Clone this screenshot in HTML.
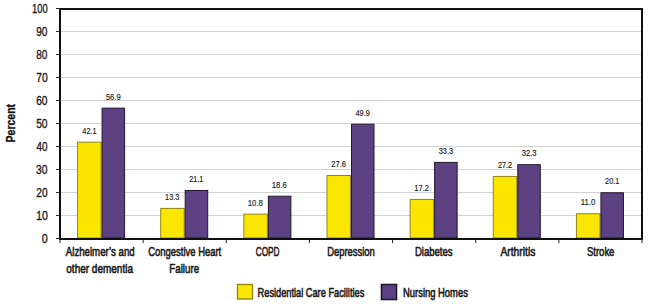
<!DOCTYPE html>
<html><head><meta charset="utf-8"><style>
html,body{margin:0;padding:0;background:#fff;width:648px;height:304px;overflow:hidden}
svg text{font-family:"Liberation Sans", sans-serif}
</style></head><body>
<svg width="648" height="304" viewBox="0 0 648 304" style="display:block">
<rect width="648" height="304" fill="#fff"/>
<line x1="60.0" x2="642.0" y1="215.5" y2="215.5" stroke="#d3d3d3" stroke-width="1"/>
<line x1="60.0" x2="642.0" y1="192.5" y2="192.5" stroke="#d3d3d3" stroke-width="1"/>
<line x1="60.0" x2="642.0" y1="169.5" y2="169.5" stroke="#d3d3d3" stroke-width="1"/>
<line x1="60.0" x2="642.0" y1="146.5" y2="146.5" stroke="#d3d3d3" stroke-width="1"/>
<line x1="60.0" x2="642.0" y1="123.50000000000001" y2="123.50000000000001" stroke="#d3d3d3" stroke-width="1"/>
<line x1="60.0" x2="642.0" y1="100.5" y2="100.5" stroke="#d3d3d3" stroke-width="1"/>
<line x1="60.0" x2="642.0" y1="77.5" y2="77.5" stroke="#d3d3d3" stroke-width="1"/>
<line x1="60.0" x2="642.0" y1="54.5" y2="54.5" stroke="#d3d3d3" stroke-width="1"/>
<line x1="60.0" x2="642.0" y1="31.50000000000003" y2="31.50000000000003" stroke="#d3d3d3" stroke-width="1"/>
<rect x="77.57" y="142.17" width="23.5" height="95.83" fill="#fbe600" stroke="#938515" stroke-width="1"/>
<rect x="102.07" y="108.13" width="22.5" height="129.87" fill="#5c4283" stroke="#24142e" stroke-width="1"/>
<rect x="160.71" y="208.41" width="23.5" height="29.59" fill="#fbe600" stroke="#938515" stroke-width="1"/>
<rect x="185.21" y="190.47" width="22.5" height="47.53" fill="#5c4283" stroke="#24142e" stroke-width="1"/>
<rect x="243.86" y="214.16" width="23.5" height="23.84" fill="#fbe600" stroke="#938515" stroke-width="1"/>
<rect x="268.36" y="196.22" width="22.5" height="41.78" fill="#5c4283" stroke="#24142e" stroke-width="1"/>
<rect x="327.00" y="175.52" width="23.5" height="62.48" fill="#fbe600" stroke="#938515" stroke-width="1"/>
<rect x="351.50" y="124.23" width="22.5" height="113.77" fill="#5c4283" stroke="#24142e" stroke-width="1"/>
<rect x="410.14" y="199.44" width="23.5" height="38.56" fill="#fbe600" stroke="#938515" stroke-width="1"/>
<rect x="434.64" y="162.41" width="22.5" height="75.59" fill="#5c4283" stroke="#24142e" stroke-width="1"/>
<rect x="493.29" y="176.44" width="23.5" height="61.56" fill="#fbe600" stroke="#938515" stroke-width="1"/>
<rect x="517.79" y="164.71" width="22.5" height="73.29" fill="#5c4283" stroke="#24142e" stroke-width="1"/>
<rect x="576.43" y="213.70" width="23.5" height="24.30" fill="#fbe600" stroke="#938515" stroke-width="1"/>
<rect x="600.93" y="192.77" width="22.5" height="45.23" fill="#5c4283" stroke="#24142e" stroke-width="1"/>
<rect x="60" y="9" width="582" height="230" fill="none" stroke="#111" stroke-width="2"/>
<line x1="56" x2="60" y1="238.5" y2="238.5" stroke="#222" stroke-width="1"/>
<line x1="56" x2="60" y1="215.5" y2="215.5" stroke="#222" stroke-width="1"/>
<line x1="56" x2="60" y1="192.5" y2="192.5" stroke="#222" stroke-width="1"/>
<line x1="56" x2="60" y1="169.5" y2="169.5" stroke="#222" stroke-width="1"/>
<line x1="56" x2="60" y1="146.5" y2="146.5" stroke="#222" stroke-width="1"/>
<line x1="56" x2="60" y1="123.50000000000001" y2="123.50000000000001" stroke="#222" stroke-width="1"/>
<line x1="56" x2="60" y1="100.5" y2="100.5" stroke="#222" stroke-width="1"/>
<line x1="56" x2="60" y1="77.5" y2="77.5" stroke="#222" stroke-width="1"/>
<line x1="56" x2="60" y1="54.5" y2="54.5" stroke="#222" stroke-width="1"/>
<line x1="56" x2="60" y1="31.50000000000003" y2="31.50000000000003" stroke="#222" stroke-width="1"/>
<line x1="56" x2="60" y1="8.500000000000028" y2="8.500000000000028" stroke="#222" stroke-width="1"/>
<line x1="60.00" x2="60.00" y1="239" y2="243" stroke="#222" stroke-width="1"/>
<line x1="143.14" x2="143.14" y1="239" y2="243" stroke="#222" stroke-width="1"/>
<line x1="226.29" x2="226.29" y1="239" y2="243" stroke="#222" stroke-width="1"/>
<line x1="309.43" x2="309.43" y1="239" y2="243" stroke="#222" stroke-width="1"/>
<line x1="392.57" x2="392.57" y1="239" y2="243" stroke="#222" stroke-width="1"/>
<line x1="475.71" x2="475.71" y1="239" y2="243" stroke="#222" stroke-width="1"/>
<line x1="558.86" x2="558.86" y1="239" y2="243" stroke="#222" stroke-width="1"/>
<line x1="642.00" x2="642.00" y1="239" y2="243" stroke="#222" stroke-width="1"/>
<text x="65.80" y="256.40" font-size="12.9" font-weight="normal" fill="#1a1a1a" textLength="68.93" lengthAdjust="spacingAndGlyphs" stroke="#1a1a1a" stroke-width="0.6">Alzheimer’s and</text>
<text x="66.30" y="272.80" font-size="12.9" font-weight="normal" fill="#1a1a1a" textLength="66.68" lengthAdjust="spacingAndGlyphs" stroke="#1a1a1a" stroke-width="0.6">other dementia</text>
<text x="82.34" y="133.67" font-size="9.6" font-weight="normal" fill="#1a1a1a" textLength="14.33" lengthAdjust="spacingAndGlyphs" stroke="#1a1a1a" stroke-width="0.15">42.1</text>
<text x="105.89" y="99.63" font-size="9.6" font-weight="normal" fill="#1a1a1a" textLength="14.80" lengthAdjust="spacingAndGlyphs" stroke="#1a1a1a" stroke-width="0.15">56.9</text>
<text x="148.30" y="256.40" font-size="12.9" font-weight="normal" fill="#1a1a1a" textLength="72.94" lengthAdjust="spacingAndGlyphs" stroke="#1a1a1a" stroke-width="0.6">Congestive Heart</text>
<text x="169.26" y="272.80" font-size="12.9" font-weight="normal" fill="#1a1a1a" textLength="29.94" lengthAdjust="spacingAndGlyphs" stroke="#1a1a1a" stroke-width="0.6">Failure</text>
<text x="165.09" y="199.91" font-size="9.6" font-weight="normal" fill="#1a1a1a" textLength="14.35" lengthAdjust="spacingAndGlyphs" stroke="#1a1a1a" stroke-width="0.15">13.3</text>
<text x="189.17" y="181.97" font-size="9.6" font-weight="normal" fill="#1a1a1a" textLength="14.27" lengthAdjust="spacingAndGlyphs" stroke="#1a1a1a" stroke-width="0.15">21.1</text>
<text x="255.69" y="256.40" font-size="12.9" font-weight="normal" fill="#1a1a1a" textLength="23.84" lengthAdjust="spacingAndGlyphs" stroke="#1a1a1a" stroke-width="0.6">COPD</text>
<text x="247.75" y="205.66" font-size="9.6" font-weight="normal" fill="#1a1a1a" textLength="15.19" lengthAdjust="spacingAndGlyphs" stroke="#1a1a1a" stroke-width="0.15">10.8</text>
<text x="271.75" y="187.72" font-size="9.6" font-weight="normal" fill="#1a1a1a" textLength="15.19" lengthAdjust="spacingAndGlyphs" stroke="#1a1a1a" stroke-width="0.15">18.6</text>
<text x="327.19" y="256.40" font-size="12.9" font-weight="normal" fill="#1a1a1a" textLength="47.47" lengthAdjust="spacingAndGlyphs" stroke="#1a1a1a" stroke-width="0.6">Depression</text>
<text x="331.15" y="167.02" font-size="9.6" font-weight="normal" fill="#1a1a1a" textLength="15.00" lengthAdjust="spacingAndGlyphs" stroke="#1a1a1a" stroke-width="0.15">27.6</text>
<text x="355.43" y="115.73" font-size="9.6" font-weight="normal" fill="#1a1a1a" textLength="14.38" lengthAdjust="spacingAndGlyphs" stroke="#1a1a1a" stroke-width="0.15">49.9</text>
<text x="414.91" y="256.40" font-size="12.9" font-weight="normal" fill="#1a1a1a" textLength="37.71" lengthAdjust="spacingAndGlyphs" stroke="#1a1a1a" stroke-width="0.6">Diabetes</text>
<text x="414.24" y="190.94" font-size="9.6" font-weight="normal" fill="#1a1a1a" textLength="14.71" lengthAdjust="spacingAndGlyphs" stroke="#1a1a1a" stroke-width="0.15">17.2</text>
<text x="438.72" y="153.91" font-size="9.6" font-weight="normal" fill="#1a1a1a" textLength="14.33" lengthAdjust="spacingAndGlyphs" stroke="#1a1a1a" stroke-width="0.15">33.3</text>
<text x="500.43" y="256.40" font-size="12.9" font-weight="normal" fill="#1a1a1a" textLength="34.93" lengthAdjust="spacingAndGlyphs" stroke="#1a1a1a" stroke-width="0.6">Arthritis</text>
<text x="497.89" y="167.94" font-size="9.6" font-weight="normal" fill="#1a1a1a" textLength="14.31" lengthAdjust="spacingAndGlyphs" stroke="#1a1a1a" stroke-width="0.15">27.2</text>
<text x="521.76" y="156.21" font-size="9.6" font-weight="normal" fill="#1a1a1a" textLength="14.69" lengthAdjust="spacingAndGlyphs" stroke="#1a1a1a" stroke-width="0.15">32.3</text>
<text x="587.00" y="256.40" font-size="12.9" font-weight="normal" fill="#1a1a1a" textLength="27.39" lengthAdjust="spacingAndGlyphs" stroke="#1a1a1a" stroke-width="0.6">Stroke</text>
<text x="580.78" y="205.20" font-size="9.6" font-weight="normal" fill="#1a1a1a" textLength="14.47" lengthAdjust="spacingAndGlyphs" stroke="#1a1a1a" stroke-width="0.15">11.0</text>
<text x="605.06" y="184.27" font-size="9.6" font-weight="normal" fill="#1a1a1a" textLength="14.29" lengthAdjust="spacingAndGlyphs" stroke="#1a1a1a" stroke-width="0.15">20.1</text>
<text x="41.77" y="243.00" font-size="12.4" font-weight="normal" fill="#1a1a1a" textLength="5.98" lengthAdjust="spacingAndGlyphs" stroke="#1a1a1a" stroke-width="0.35">0</text>
<text x="36.13" y="220.00" font-size="12.4" font-weight="normal" fill="#1a1a1a" textLength="11.67" lengthAdjust="spacingAndGlyphs" stroke="#1a1a1a" stroke-width="0.35">10</text>
<text x="36.35" y="197.00" font-size="12.4" font-weight="normal" fill="#1a1a1a" textLength="11.28" lengthAdjust="spacingAndGlyphs" stroke="#1a1a1a" stroke-width="0.35">20</text>
<text x="35.92" y="174.00" font-size="12.4" font-weight="normal" fill="#1a1a1a" textLength="11.48" lengthAdjust="spacingAndGlyphs" stroke="#1a1a1a" stroke-width="0.35">30</text>
<text x="36.58" y="151.00" font-size="12.4" font-weight="normal" fill="#1a1a1a" textLength="11.06" lengthAdjust="spacingAndGlyphs" stroke="#1a1a1a" stroke-width="0.35">40</text>
<text x="36.15" y="128.00" font-size="12.4" font-weight="normal" fill="#1a1a1a" textLength="11.41" lengthAdjust="spacingAndGlyphs" stroke="#1a1a1a" stroke-width="0.35">50</text>
<text x="36.15" y="105.00" font-size="12.4" font-weight="normal" fill="#1a1a1a" textLength="11.35" lengthAdjust="spacingAndGlyphs" stroke="#1a1a1a" stroke-width="0.35">60</text>
<text x="36.23" y="82.00" font-size="12.4" font-weight="normal" fill="#1a1a1a" textLength="11.42" lengthAdjust="spacingAndGlyphs" stroke="#1a1a1a" stroke-width="0.35">70</text>
<text x="36.32" y="59.00" font-size="12.4" font-weight="normal" fill="#1a1a1a" textLength="11.11" lengthAdjust="spacingAndGlyphs" stroke="#1a1a1a" stroke-width="0.35">80</text>
<text x="36.14" y="36.00" font-size="12.4" font-weight="normal" fill="#1a1a1a" textLength="11.31" lengthAdjust="spacingAndGlyphs" stroke="#1a1a1a" stroke-width="0.35">90</text>
<text x="31.97" y="13.00" font-size="12.4" font-weight="normal" fill="#1a1a1a" textLength="15.66" lengthAdjust="spacingAndGlyphs" stroke="#1a1a1a" stroke-width="0.35">100</text>
<text x="257.61" y="296.80" font-size="12.6" font-weight="normal" fill="#1a1a1a" textLength="106.67" lengthAdjust="spacingAndGlyphs" stroke="#1a1a1a" stroke-width="0.6">Residential Care Facilities</text>
<text x="403.07" y="296.80" font-size="12.6" font-weight="normal" fill="#1a1a1a" textLength="64.81" lengthAdjust="spacingAndGlyphs" stroke="#1a1a1a" stroke-width="0.6">Nursing Homes</text>
<text transform="translate(14.8,123.2) rotate(-90)" font-size="12.6" font-weight="bold" text-anchor="middle" fill="#111" stroke="#111" stroke-width="0.3" textLength="38.5" lengthAdjust="spacingAndGlyphs">Percent</text>
<rect x="237.5" y="284.5" width="15" height="14.5" fill="#fbe600" stroke="#938515" stroke-width="1.4"/>
<rect x="381.5" y="284.5" width="15" height="15" fill="#5c4283" stroke="#24142e" stroke-width="1.6"/>
</svg>
</body></html>
